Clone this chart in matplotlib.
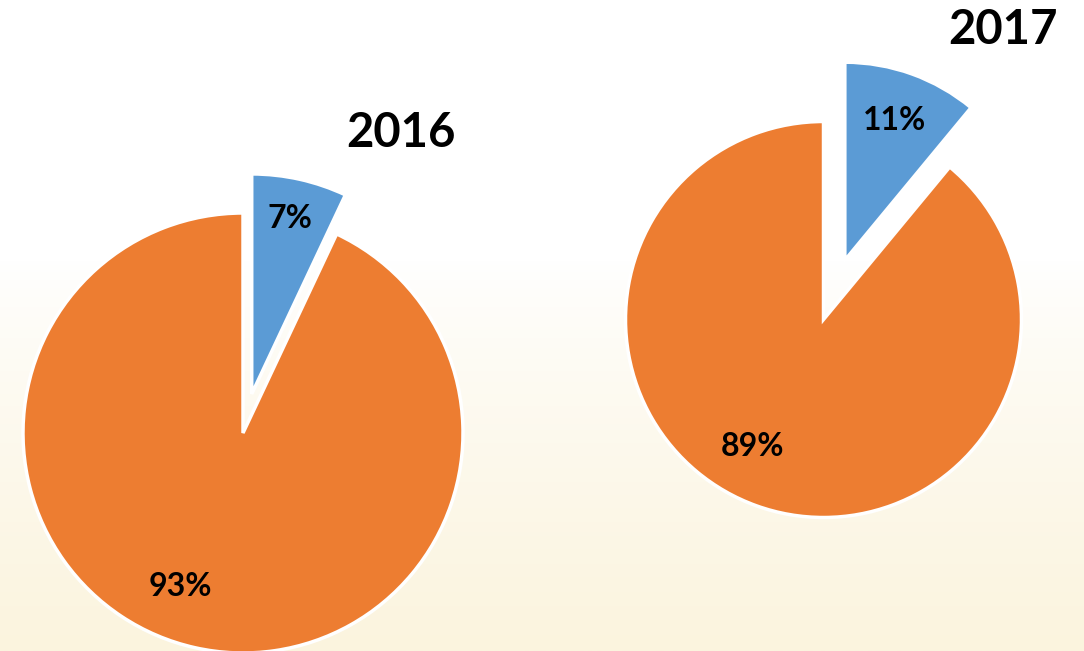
import numpy as np
import matplotlib
matplotlib.use("Agg")
import matplotlib.pyplot as plt

# data
years = ["2016", "2017"]
labels = ["blue", "orange"]
shares_2016 = [7, 93]
shares_2017 = [11, 89]
colors = ["#5B9BD5", "#ED7D31"]

W, H = 1084, 651
fig = plt.figure(figsize=(W / 100, H / 100), dpi=100)

# faded background: white on top, light cream towards the bottom
bg = fig.add_axes([0, 0, 1, 1])
grad = np.linspace(0, 1, 256)
grad = np.clip((grad - 0.4) / 0.6, 0, 1) ** 0.8
top = np.array([1.0, 1.0, 1.0])
bot = np.array([251, 244, 222]) / 255.0
img = top[None, :] * (1 - grad[:, None]) + bot[None, :] * grad[:, None]
bg.imshow(img[:, None, :], aspect="auto", extent=[0, 1, 0, 1])
bg.axis("off")

ax = fig.add_axes([0, 0, 1, 1])
ax.set_xlim(0, W)
ax.set_ylim(0, H)
ax.set_aspect("equal")
ax.axis("off")

font = "Lato"
pies = [
    # values, center (px), radius (px), explode (px), title pos, label positions
    (shares_2016, (243, H - 433), 220, 40, (401, H - 133), [(290, H - 218), (180, H - 586)]),
    (shares_2017, (823.5, H - 319.5), 198, 63, (1003, H - 30), [(895, H - 120), (752, H - 447)]),
]

for yr, (vals, c, r, ex, tpos, lpos) in zip(years, pies):
    wedges, texts, autotexts = ax.pie(
        vals, colors=colors, startangle=90, counterclock=False,
        explode=[ex, 0], center=c, radius=r, autopct="%d%%",
        pctdistance=0.78, frame=True,
        wedgeprops=dict(edgecolor="white", linewidth=2.5),
        textprops=dict(fontsize=23, fontweight="bold", family=font, color="black"),
    )
    for t, p in zip(autotexts, lpos):
        t.set_position(p)
    ax.text(tpos[0], tpos[1], yr, ha="center", va="center", fontsize=34,
            fontweight="bold", family=font, color="black")

ax.set_xlim(0, W)
ax.set_ylim(0, H)
ax.axis("off")

fig.savefig("out.png", dpi=100)
